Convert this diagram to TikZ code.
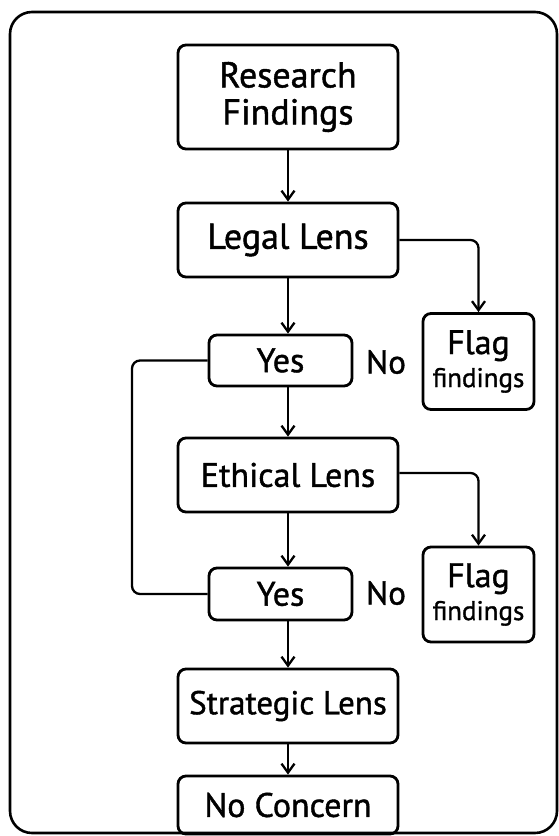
\documentclass[tikz,border=0pt]{standalone}
\usepackage{fontspec}
\setmainfont{PT Sans}[FakeBold=1.2]
\usetikzlibrary{arrows.meta}
\newcommand{\fs}[2]{\fontsize{#1}{#2}\selectfont}
\begin{document}
\begin{tikzpicture}[x=1pt,y=-1pt,
  box/.style={draw,line width=2.8pt,rounded corners=8pt,minimum width=220pt,inner sep=0pt,align=center,font=\fs{34}{38}},
  ybox/.style={box,minimum width=143pt,minimum height=51pt},
  fbox/.style={box,minimum width=111pt,minimum height=96pt,font=\fs{34}{33}},
  lbl/.style={font=\fs{33}{35},inner sep=0pt},
  arr/.style={line width=2.3pt,-{Straight Barb[length=9pt,width=13pt,line width=2.3pt]}},
  ln/.style={line width=2.3pt,rounded corners=8pt}]
\useasboundingbox (0,0) rectangle (559,836);
\draw[line width=2.6pt,rounded corners=22pt] (10,12) rectangle (557,833);
\node[box,minimum height=104pt,font=\fs{36}{37}] (rf) at (288,97) {\raisebox{-3pt}{Research}\\\raisebox{-3pt}{Findings}};
\node[box,minimum height=74pt,font=\fs{36}{38}] (ll) at (288,240) {Legal Lens};
\node[ybox] (y1) at (280.5,360.5) {Yes};
\node[lbl] (no1) at (386,362) {No};
\node[fbox] (f1) at (478.5,361.5) {Flag\\{\fs{27}{30}findings}};
\node[box,minimum height=74pt] (el) at (288,475) {Ethical Lens};
\node[ybox,minimum height=52pt] (y2) at (280.5,594) {Yes};
\node[lbl] (no2) at (386,593) {No};
\node[fbox,minimum height=95pt] (f2) at (478.5,594.5) {Flag\\{\fs{27}{30}findings}};
\node[box,minimum height=74pt,font=\fs{33}{36}] (sl) at (288,706) {Strategic Lens};
\node[box,minimum height=58pt] (nc) at (288,805) {No Concern};
\coordinate (ee) at ([yshift=2pt]el.east);
\draw[arr] (rf) -- (ll);
\draw[arr] (ll.south) -- (ll.south |- y1.north);
\draw[arr] (y1.south -| ll.south) -- (el.north);
\draw[arr] (el.south) -- (el.south |- y2.north);
\draw[arr] (y2.south -| el.south) -- (sl.north);
\draw[arr] (sl) -- (nc);
\draw[arr,rounded corners=8pt] (ll.east) -- (f1.north |- ll.east) -- (f1.north);
\draw[arr,rounded corners=8pt] (ee) -- (f2.north |- ee) -- (f2.north);
\draw[ln] (y1.west) -- (132,360.5) -- (132,594) -- (y2.west);
\end{tikzpicture}
\end{document}
